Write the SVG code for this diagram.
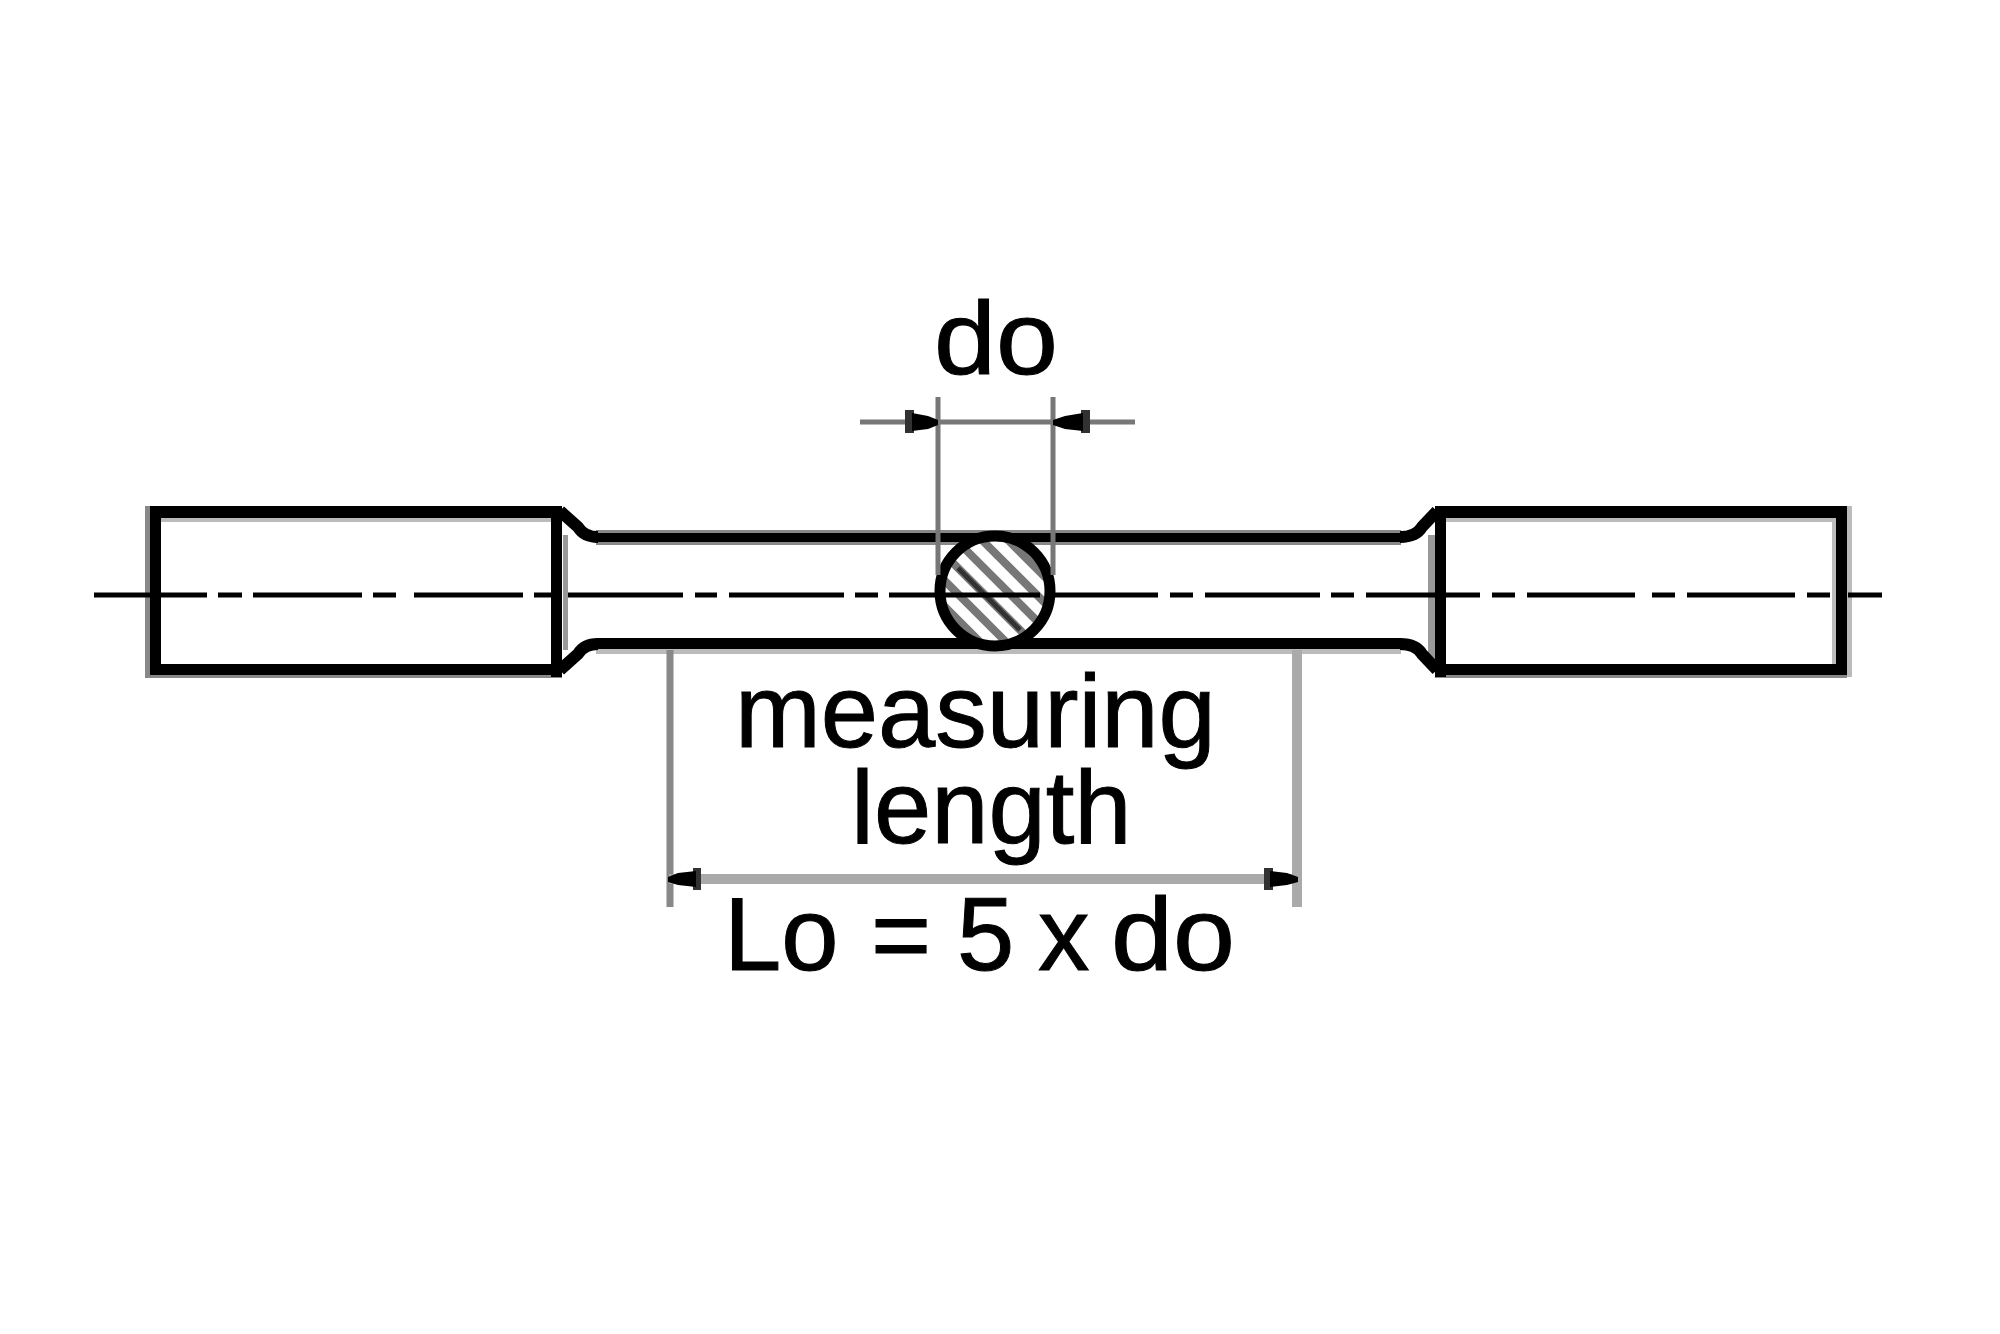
<svg xmlns="http://www.w3.org/2000/svg" width="2000" height="1334" viewBox="0 0 2000 1334">
<style>
.t{font-family:"Liberation Sans",Arial,sans-serif;font-size:103px;fill:#000;stroke:#000;stroke-width:1}
.k{fill:#000}
.g1{fill:#888}
.g2{fill:#999}
.g3{fill:#bbb}
.n{fill:none;stroke:#000;stroke-width:12}
.c{fill:none;stroke:#000;stroke-width:5}
.d{fill:none;stroke:#777;stroke-width:5}
.d2{fill:none;stroke:#888;stroke-width:7}
.e{fill:none;stroke:#aaa;stroke-width:10}
.h{stroke:#777;stroke-width:8}
.s{fill:#000}
.q{fill:#333}
</style>
<defs>
<clipPath id="cc"><circle cx="995" cy="591" r="56"/></clipPath>
<filter id="soft" x="0" y="0" width="100%" height="100%"><feGaussianBlur stdDeviation="0.7"/></filter>
</defs>
<rect width="2000" height="1334" fill="#fff"/>
<g filter="url(#soft)">
<g id="grip-left">
<rect class="g1" x="145" y="506" width="5" height="171"/>
<rect class="g1" x="145" y="675" width="417" height="3"/>
<rect class="g3" x="161" y="518" width="391" height="4"/>
<rect class="k" x="150" y="506" width="412" height="12"/>
<rect class="k" x="150" y="664" width="412" height="11"/>
<rect class="k" x="150" y="506" width="11" height="169"/>
<rect class="k" x="551" y="506" width="11" height="171"/>
</g>
<g id="grip-right">
<rect class="g3" x="1847" y="506" width="5" height="171"/>
<rect class="g3" x="1832" y="518" width="4" height="146"/>
<rect class="g1" x="1435" y="675" width="412" height="3"/>
<rect class="g3" x="1446" y="518" width="386" height="4"/>
<rect class="k" x="1435" y="506" width="412" height="12"/>
<rect class="k" x="1435" y="664" width="412" height="11"/>
<rect class="k" x="1435" y="506" width="11" height="171"/>
<rect class="k" x="1836" y="506" width="11" height="169"/>
</g>
<g id="shaft">
<rect class="g2" x="563" y="535" width="5" height="115"/>
<rect class="g2" x="1428" y="535" width="7" height="130"/>
<rect class="g1" x="596" y="530" width="805" height="15"/>
<rect class="g3" x="596" y="649" width="805" height="5"/>
<rect class="k" x="596" y="533" width="805" height="9"/>
<rect class="k" x="596" y="638" width="805" height="11"/>
<path class="n" d="M560 511L578 527Q584 537 598 537"/>
<path class="n" d="M560 670L578 654Q584 644 598 644"/>
<path class="n" d="M1437 511L1422 527Q1416 537 1400 537"/>
<path class="n" d="M1437 670L1422 654Q1416 644 1400 644"/>
</g>
<g id="section">
<circle cx="995" cy="591" r="56" fill="#fff"/>
<g clip-path="url(#cc)">
<path class="h" transform="translate(-7 7)" d="M880 476L1100 696M893 463L1113 683M906 450L1126 670M919 437L1139 657M932 424L1152 644M867 489L1087 709M854 502L1074 722M841 515L1061 735M828 528L1048 748"/>
<path d="M958 568L1020 630" stroke="#333" stroke-width="5"/>
</g>
<circle cx="995" cy="591" r="55" fill="none" stroke="#000" stroke-width="11"/>
</g>
<g id="connectors">
<path class="c" d="M94 595H207M218 595H242M253 595H362M373 595H396M414 595H523M534 595H552M568 595H683M695 595H717M729 595H844M855 595H878M889 595H940M945 595H1040M1050 595H1158M1170 595H1193M1205 595H1320M1331 595H1354M1366 595H1436M1446 595H1480M1492 595H1515M1527 595H1635M1652 595H1675M1687 595H1795M1807 595H1830M1848 595H1882"/>
<path class="d" d="M860 422H1135M938 397V575M1053 397V575"/>
<path class="d2" d="M670 650V907"/>
<path class="e" d="M1297 650V907M669 879H1297"/>
<path class="q" d="M905 410H914V433H905Z M1081 410H1090V433H1081Z M693 868H701V890H693Z M1264 868H1273V890H1264Z"/>
<path class="s" d="M912 413L928 416L938 420V425L928 429L912 431Z M1083 413L1065 416L1053 420V425L1065 429L1083 431Z M696 871L678 873L668 877V882L678 885L696 887Z M1270 871L1287 873L1298 877V882L1287 885L1270 887Z"/>
</g>
<g id="labels">
<text class="t" x="934" y="374" textLength="124" lengthAdjust="spacingAndGlyphs">do</text>
<text class="t" x="735" y="747">measuring</text>
<text class="t" x="851" y="843">length</text>
<text class="t" y="970"><tspan x="724">Lo</tspan> <tspan x="871">=</tspan> <tspan x="957">5</tspan> <tspan x="1038">x</tspan> <tspan x="1111" textLength="124" lengthAdjust="spacingAndGlyphs">do</tspan></text>
</g>
</g>
</svg>
